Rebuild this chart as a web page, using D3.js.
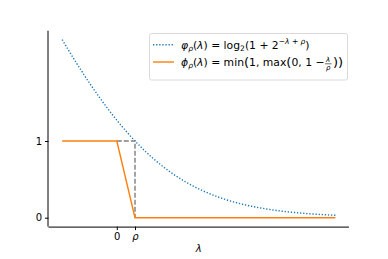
<!DOCTYPE html>
<html><head><meta charset="utf-8">
<script src="https://cdn.jsdelivr.net/npm/d3@7"></script>
<style>body{margin:0;background:#fff}svg{display:block}text{font-family:"DejaVu Sans",sans-serif}</style>
</head><body><svg id="c" width="388" height="259"></svg>
<script>
const rho = 0.5;
const lambdaRange = [-1.5, 6];
const xTickValues = [0, rho];
const xTickLabels = ["0", "ρ"];
const yTickValues = [0, 1];
const yTickLabels = ["0", "1"];
// orange piecewise: min(1, max(0, 1 - λ/ρ))
const phiX = [-1.5, 0, rho, 6];
const phiY = [1, 1, 0, 0];
// gray guide
const guideX = [0, rho, rho];
const guideY = [1, 1, 0];
// sampled λ values for smooth curve (log2(1+2^(-λ+ρ)))
const curveLambda = d3.range(-1.5, 6.0001, 0.05);

const svg = d3.select("#c");
const L = 48.5, R = 349, T = 30.7, B = 226.6;
const xs = d3.scaleLinear().domain([-1.875, 6.375]).range([L, R]);
const yMax = Math.log2(1 + Math.pow(2, 2));
const ys = d3.scaleLinear().domain([-0.05 * yMax, 1.05 * yMax]).range([B, T]);

const curve = curveLambda.map(l => [l, Math.log2(1 + Math.pow(2, -l + rho))]);
const line = d3.line().x(d => xs(d[0])).y(d => ys(d[1]));
svg.append("path").attr("d", line(curve)).attr("fill", "none")
  .attr("stroke", "#1f77b4").attr("stroke-width", 1.4).attr("stroke-dasharray", "1.3,1.8");
svg.append("path").attr("d", line(guideX.map((x, i) => [x, guideY[i]]))).attr("fill", "none")
  .attr("stroke", "#7f7f7f").attr("stroke-width", 1.4).attr("stroke-dasharray", "5,2");
svg.append("path").attr("d", line(phiX.map((x, i) => [x, phiY[i]]))).attr("fill", "none")
  .attr("stroke", "#ff7f0e").attr("stroke-width", 1.4);

const xAxis = d3.axisBottom(xs).tickValues(xTickValues).tickFormat((d, i) => xTickLabels[i]).tickSize(3.5).tickPadding(3);
const gx = svg.append("g").attr("transform", `translate(0,${B})`).call(xAxis);
gx.select(".domain").attr("d", `M${L},0.5H${R}`).attr("stroke", "#000").attr("stroke-width", 1);
const yAxis = d3.axisLeft(ys).tickValues(yTickValues).tickFormat((d, i) => yTickLabels[i]).tickSize(3.5).tickPadding(3);
const gy = svg.append("g").attr("transform", `translate(${L},0)`).call(yAxis);
gy.select(".domain").attr("d", `M-0.5,${T}V${B}`).attr("stroke", "#000");
svg.selectAll(".tick text").attr("font-family", "DejaVu Sans").attr("font-size", 10).attr("fill", "#000");
gx.selectAll(".tick text").filter((d, i) => i === 1).attr("font-style", "italic");
svg.selectAll(".tick line").attr("stroke", "#000");

svg.append("text").attr("x", (L + R) / 2).attr("y", 252).attr("text-anchor", "middle")
  .attr("font-size", 10).attr("font-style", "italic").text("λ");

const lg = svg.append("g");
lg.append("rect").attr("x", 149.5).attr("y", 33.5).attr("width", 198).attr("height", 46.5)
  .attr("rx", 2).attr("fill", "#fff").attr("fill-opacity", 0.8).attr("stroke", "#d0d0d0").attr("stroke-width", 0.8);
lg.append("line").attr("x1", 153).attr("x2", 174).attr("y1", 44.7).attr("y2", 44.7)
  .attr("stroke", "#1f77b4").attr("stroke-width", 1.4).attr("stroke-dasharray", "1.3,1.8");
lg.append("line").attr("x1", 153).attr("x2", 174).attr("y1", 62).attr("y2", 62)
  .attr("stroke", "#ff7f0e").attr("stroke-width", 1.4);

const fs = 10.8, fsS = 7.5;
const t1 = lg.append("text").attr("x", 181).attr("y", 48.5).attr("font-size", fs);
t1.append("tspan").attr("font-style", "italic").text("φ");
t1.append("tspan").attr("font-style", "italic").attr("font-size", fsS).attr("dy", 2).text("ρ");
t1.append("tspan").attr("dy", -2).text("(");
t1.append("tspan").attr("font-style", "italic").text("λ");
t1.append("tspan").text(") = log");
t1.append("tspan").attr("font-size", fsS).attr("dy", 2).text("2");
t1.append("tspan").attr("dy", -2).text("(1 + 2");
t1.append("tspan").attr("font-size", fsS).attr("dy", -4.5).text("−");
t1.append("tspan").attr("font-size", fsS).attr("font-style", "italic").text("λ");
t1.append("tspan").attr("font-size", fsS).text(" + ");
t1.append("tspan").attr("font-size", fsS).attr("font-style", "italic").text("ρ");
t1.append("tspan").attr("dy", 4.5).text(")");

const t2 = lg.append("text").attr("x", 181).attr("y", 66).attr("font-size", fs);
t2.append("tspan").attr("font-style", "italic").text("ϕ");
t2.append("tspan").attr("font-style", "italic").attr("font-size", fsS).attr("dy", 2).text("ρ");
t2.append("tspan").attr("dy", -2).text("(");
t2.append("tspan").attr("font-style", "italic").text("λ");
t2.append("tspan").text(") = min");
t2.append("tspan").attr("font-size", 13).attr("dy", 0.5).text("(");
t2.append("tspan").attr("dy", -0.5).text("1, max");
t2.append("tspan").attr("font-size", 13).attr("dy", 0.5).text("(");
t2.append("tspan").attr("dy", -0.5).text("0, 1 − ");
const bb = t2.node().getComputedTextLength();
const fx = 181 + bb + 0.5;
lg.append("text").attr("x", fx + 3.2).attr("y", 62.3).attr("font-size", 7).attr("font-style", "italic").attr("text-anchor", "middle").text("λ");
lg.append("line").attr("x1", fx).attr("x2", fx + 6.5).attr("y1", 63.8).attr("y2", 63.8).attr("stroke", "#000").attr("stroke-width", 0.6);
lg.append("text").attr("x", fx + 3.2).attr("y", 69.8).attr("font-size", 7).attr("font-style", "italic").attr("text-anchor", "middle").text("ρ");
lg.append("text").attr("x", fx + 8).attr("y", 66.5).attr("font-size", 13).text("))");
</script></body></html>
